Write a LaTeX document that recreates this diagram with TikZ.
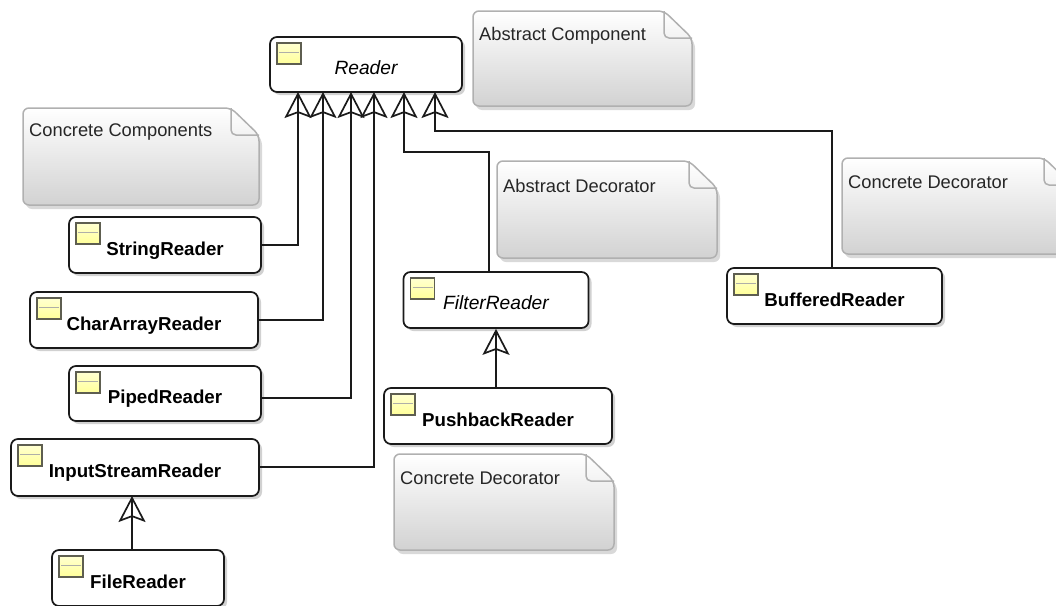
\documentclass[tikz,border=0pt]{standalone}
\usepackage{fontspec}
\setmainfont{Liberation Sans}
\usepackage{xcolor}
\usetikzlibrary{arrows.meta,shadows,calc}

\definecolor{iconyellow}{HTML}{FFFF99}
\definecolor{iconedge}{HTML}{5E5E50}
\definecolor{noteedge}{HTML}{B0B0B0}
\definecolor{noteshade}{HTML}{D2D2D2}
\definecolor{linedark}{HTML}{1A1A1A}

\tikzset{
  classbox/.style={draw=linedark, line width=1.7pt, rounded corners=7pt, fill=white,
    inner sep=0pt, text height=20.5pt, text depth=0pt, font=\fontsize{18.7}{20}\selectfont\bfseries,
    drop shadow={shadow xshift=3pt, shadow yshift=-3pt, opacity=0.18, fill=black},
    path picture={
      \coordinate (nw) at (path picture bounding box.north west);
      \draw[sharp corners, iconedge, line width=1.4pt, top color=iconyellow!45, bottom color=iconyellow]
        ($(nw)+(7pt,-6pt)$) rectangle ($(nw)+(31pt,-27pt)$);
      \draw[sharp corners, iconedge!50, line width=0.9pt] ($(nw)+(9pt,-15pt)$) -- ($(nw)+(29pt,-15pt)$);
    }},
  abstractbox/.style={classbox, text height=19pt, font=\fontsize{19.2}{20}\selectfont\itshape},
  notebox/.style={draw=noteedge, line width=1.5pt, rounded corners=6pt,
    top color=white, bottom color=noteshade,
    drop shadow={shadow xshift=3pt, shadow yshift=-4pt, opacity=0.15, fill=black}},
  notefold/.style={draw=noteedge, line width=1.5pt, rounded corners=5pt},
  notetext/.style={anchor=west, inner sep=0pt, text=black!85, font=\fontsize{18.3}{20}\selectfont},
  extends/.style={draw=linedark, line width=1.7pt,
    -{Rectangle[length=24pt, width=1.7pt, sep=-24pt]Stealth[open, length=26pt, width=27pt, inset=5pt, line width=1.7pt]}}
}

\begin{document}
\begin{tikzpicture}[x=1pt, y=-1pt]
  \useasboundingbox (0,0) rectangle (1056,605);

  % Notes
  \foreach \name/\x/\y/\w/\h/\lab in {
    AbstractComponent/473/11/219/95/Abstract Component,
    ConcreteComponents/23/108/236/97/Concrete Components,
    AbstractDecorator/497/161/220/97/Abstract Decorator,
    ConcreteDecoratorA/842/158/230/96/Concrete Decorator,
    ConcreteDecoratorB/394/454/220/96/Concrete Decorator} {
    \draw[notebox] (\x,\y) -- ({\x+\w-28},\y) -- ({\x+\w},{\y+27})
      -- ({\x+\w},{\y+\h}) -- (\x,{\y+\h}) -- cycle;
    \draw[notefold] ({\x+\w-28},\y) -- ({\x+\w-28},{\y+27}) -- ({\x+\w},{\y+27});
    \node[notetext] (\name) at ({\x+6},{\y+24.5}) {\lab};
  }

  % Classes
  \node[abstractbox, minimum width=192, minimum height=55] (Reader) at (366,64.5) {Reader};
  \node[classbox, minimum width=192, minimum height=56] (StringReader) at (165,245) {StringReader};
  \node[classbox, minimum width=228, minimum height=56] (CharArrayReader) at (144,320) {CharArrayReader};
  \node[classbox, minimum width=192, minimum height=55] (PipedReader) at (165,393.5) {PipedReader};
  \node[classbox, minimum width=248, minimum height=57] (InputStreamReader) at (135,467.5) {InputStreamReader};
  \node[classbox, minimum width=172, minimum height=56] (FileReader) at (138,578) {FileReader};
  \node[abstractbox, minimum width=185, minimum height=56] (FilterReader) at (496,300) {FilterReader};
  \node[classbox, minimum width=228, minimum height=56] (PushbackReader) at (498,416) {PushbackReader};
  \node[classbox, minimum width=215, minimum height=56] (BufferedReader) at (834.5,296) {BufferedReader};

  % Arrow ends under Reader
  \foreach \tipname/\x in {tipA/298, tipB/323, tipC/351, tipD/374, tipE/404, tipF/435} {
    \coordinate (\tipname) at (\x,92);
  }
  \coordinate (filterOut) at (489,272);
  \coordinate (bufferedOut) at (832,268);
  \coordinate (inputIn) at (132,496);
  \coordinate (fileOut) at (132,550);
  \coordinate (pipedOut) at (261,398);
  \coordinate (inputOut) at (259,467);

  % Generalizations
  \draw[extends] (StringReader.east) -| (tipA);
  \draw[extends] (CharArrayReader.east) -| (tipB);
  \draw[extends] (pipedOut) -| (tipC);
  \draw[extends] (inputOut) -| (tipD);
  \draw[extends] (filterOut) |- (404,152) -- (tipE);
  \draw[extends] (bufferedOut) |- (435,131) -- (tipF);
  \draw[extends] (fileOut) -- (inputIn);
  \draw[extends] (PushbackReader.north -| FilterReader.south) -- (FilterReader.south);
\end{tikzpicture}
\end{document}
